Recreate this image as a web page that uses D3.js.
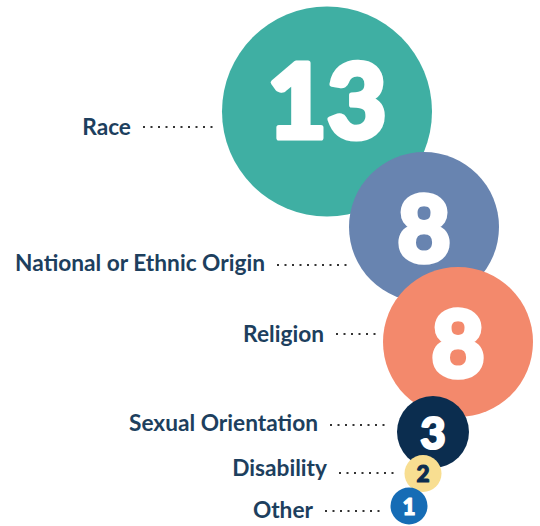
<!DOCTYPE html>
<html><head><meta charset="utf-8">
<script src="https://cdn.jsdelivr.net/npm/d3@7"></script>
<style>body{margin:0;background:#fff}</style></head><body>
<svg id="c" width="540" height="526"></svg>
<script>
const categories = ["Race","National or Ethnic Origin","Religion","Sexual Orientation","Disability","Other"];
const values = [13, 8, 8, 3, 2, 1];
const colors = ["#3FAFA3","#6884B0","#F3896C","#0B2D4F","#F8DE91","#166CB5"];
const numberColors = ["#ffffff","#ffffff","#ffffff","#ffffff","#0B2D4F","#ffffff"];

// layout (positions only)
const cx = [327, 424, 458, 433, 423, 409];
const cy = [111.5, 227, 342, 432, 473.5, 506];
const labelBase = [135, 271, 342, 431, 476, 518];
const dotY = [127, 265, 334, 425, 473, 511];
const dotX1 = [143, 277, 336, 330, 339, 325];
const dotX2 = [215, 348, 380, 387, 396, 382];

const rScale = d3.scaleLinear().domain([1, 2, 3, 8, 13]).range([18.5, 18.5, 36, 75, 105]);

const data = categories.map((c, i) => ({c, v: values[i], i}));
const svg = d3.select("#c");

const g = svg.selectAll("g.b").data(data).join("g").attr("class", "b");
g.append("circle")
  .attr("cx", d => cx[d.i]).attr("cy", d => cy[d.i])
  .attr("r", d => rScale(d.v))
  .attr("fill", d => colors[d.i]);

const capH = 0.72;
g.append("text")
  .text(d => d.v)
  .attr("x", d => cx[d.i])
  .attr("font-family", "Lato, 'DejaVu Sans', sans-serif")
  .attr("font-weight", 900)
  .attr("text-anchor", "middle")
  .attr("fill", d => numberColors[d.i])
  .attr("stroke", d => numberColors[d.i])
  .attr("stroke-linejoin", "round")
  .each(function(d) {
    const r = rScale(d.v);
    const len = String(d.v).length;
    const fs = r * (len > 1 ? 0.98 : 1.22);
    const shift = len > 1 ? -0.1 * r : 0.03 * r;
    d3.select(this).attr("font-size", fs)
      .attr("stroke-width", fs * 0.05)
      .attr("y", cy[d.i] + shift + capH * fs / 2);
  });

svg.selectAll("line.lead").data(data).join("line").attr("class", "lead")
  .attr("x1", d => dotX1[d.i]).attr("x2", d => dotX2[d.i])
  .attr("y1", d => dotY[d.i]).attr("y2", d => dotY[d.i])
  .attr("stroke", "#333")
  .attr("stroke-width", 2)
  .attr("stroke-dasharray", "2,5.5");

svg.selectAll("text.lab").data(data).join("text").attr("class", "lab")
  .text(d => d.c)
  .attr("x", d => dotX1[d.i] - 12)
  .attr("y", d => labelBase[d.i])
  .attr("text-anchor", "end")
  .attr("font-family", "Lato, sans-serif")
  .attr("font-weight", 700)
  .attr("font-size", 22.7)
  .attr("fill", "#1D3F5E");
</script>
</body></html>
